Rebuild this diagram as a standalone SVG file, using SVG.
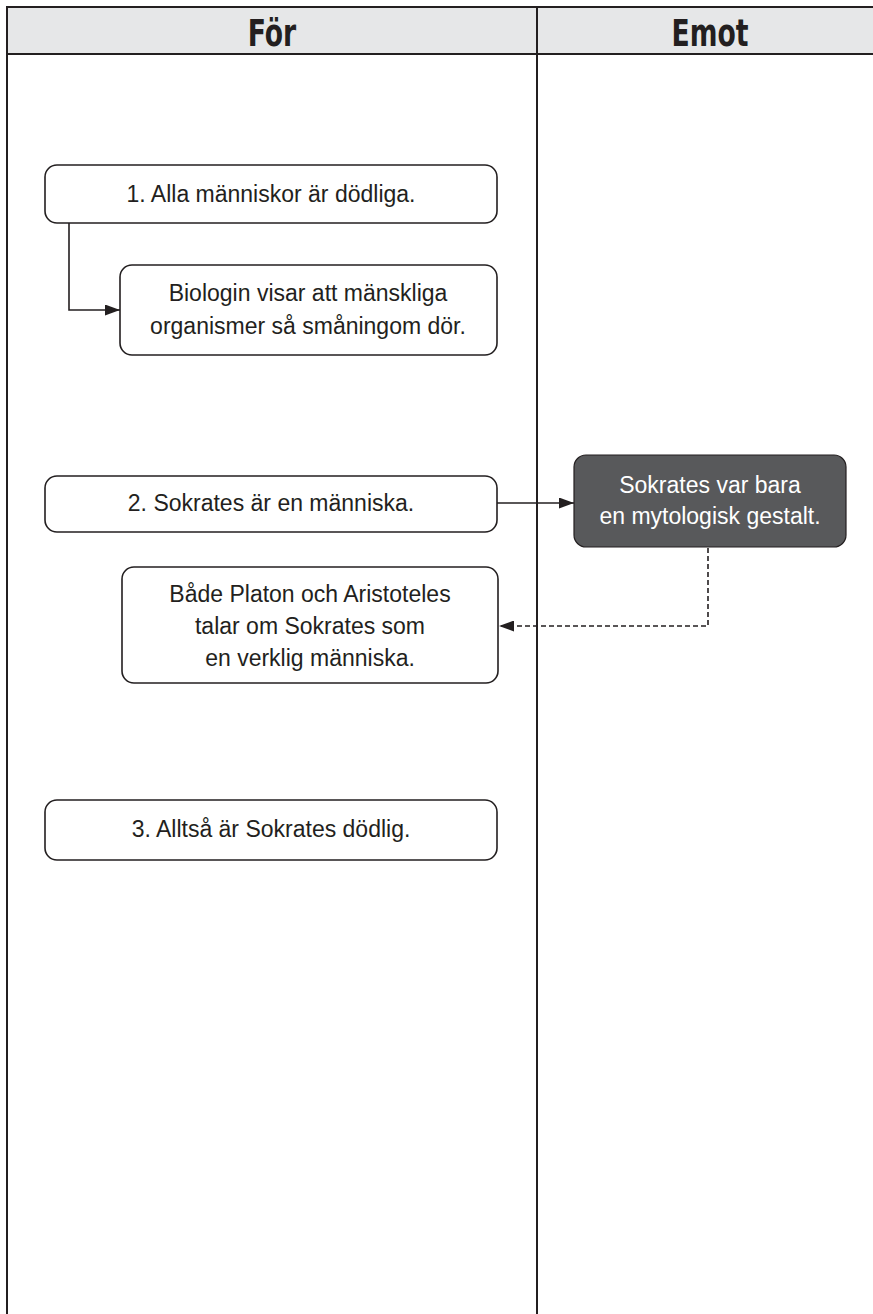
<svg xmlns="http://www.w3.org/2000/svg" width="873" height="1314" viewBox="0 0 873 1314">
<style>
.hdr{font-family:"DejaVu Sans Condensed","Liberation Sans",sans-serif;font-stretch:condensed;font-weight:bold;font-size:37px;fill:#231f20;text-anchor:middle}
.t{font-family:"Liberation Sans",Arial,sans-serif;font-size:23px;fill:#231f20;text-anchor:middle}
.tw{font-family:"Liberation Sans",Arial,sans-serif;font-size:23px;fill:#ffffff;text-anchor:middle}
.box{fill:#ffffff;stroke:#231f20;stroke-width:1.6}
.dark{fill:#58595b;stroke:#231f20;stroke-width:1.2}
.grid{stroke:#231f20;stroke-width:2;fill:none}
.c{stroke:#231f20;stroke-width:1.6;fill:none}
</style>
<defs>
<marker id="ah" markerWidth="15" markerHeight="11" refX="15" refY="5.5" orient="auto" markerUnits="userSpaceOnUse">
<path d="M0,0 L15,5.5 L0,11 z" fill="#231f20"/>
</marker>
</defs>
<rect x="0" y="0" width="873" height="1314" fill="#ffffff"/>
<g id="table">
<rect x="7" y="7" width="870" height="47" fill="#e6e7e8"/>
<path class="grid" d="M7,1314 V7 H873 M7,54 H873 M537,7 V1314"/>
<g transform="scale(0.8,1)">
<text class="hdr" x="340" y="46">För</text>
<text class="hdr" x="887.5" y="46">Emot</text>
</g>
</g>
<g id="connectors">
<path class="c" d="M69,223 V310 H120" marker-end="url(#ah)"/>
<path class="c" d="M497,503 H574" marker-end="url(#ah)"/>
<path class="c" d="M708,548 V626 H499" stroke-dasharray="5,3" marker-end="url(#ah)"/>
</g>
<g id="n1">
<rect class="box" x="45" y="165" width="452" height="58" rx="12"/>
<text class="t" x="271" y="202">1. Alla människor är dödliga.</text>
</g>
<g id="n1a">
<rect class="box" x="120" y="265" width="377" height="90" rx="12"/>
<text class="t" x="308" y="301">Biologin visar att mänskliga</text>
<text class="t" x="308" y="334">organismer så småningom dör.</text>
</g>
<g id="n2">
<rect class="box" x="45" y="476" width="452" height="56" rx="12"/>
<text class="t" x="271" y="511">2. Sokrates är en människa.</text>
</g>
<g id="n2c">
<rect class="dark" x="574" y="455" width="272" height="92" rx="12"/>
<text class="tw" x="710" y="493">Sokrates var bara</text>
<text class="tw" x="710" y="524">en mytologisk gestalt.</text>
</g>
<g id="n2a">
<rect class="box" x="122" y="567" width="376" height="116" rx="12"/>
<text class="t" x="310" y="602">Både Platon och Aristoteles</text>
<text class="t" x="310" y="634">talar om Sokrates som</text>
<text class="t" x="310" y="666">en verklig människa.</text>
</g>
<g id="n3">
<rect class="box" x="45" y="800" width="452" height="60" rx="12"/>
<text class="t" x="271" y="837">3. Alltså är Sokrates dödlig.</text>
</g>
</svg>
